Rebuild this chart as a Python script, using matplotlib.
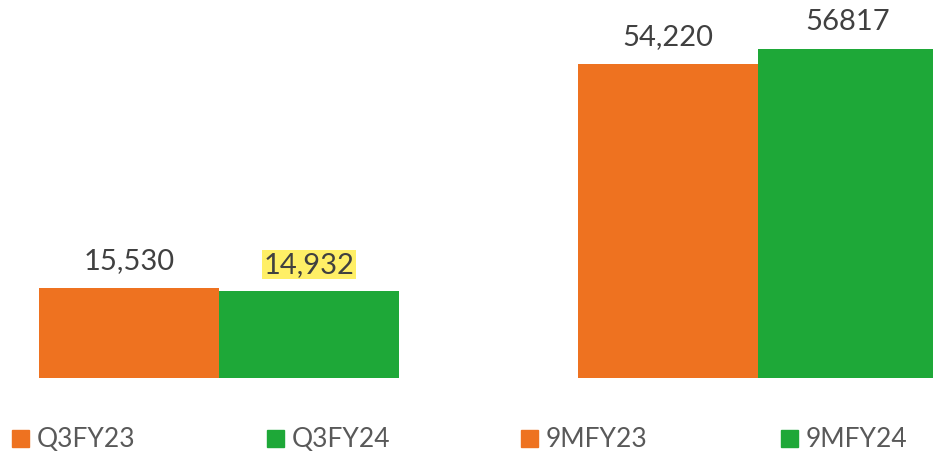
import matplotlib
matplotlib.use("Agg")
import matplotlib.pyplot as plt
from matplotlib.patches import Rectangle

plt.rcParams['font.family'] = ['Lato', 'DejaVu Sans']

groups = ["Q3", "9M"]
fy23_labels = ["Q3FY23", "9MFY23"]
fy24_labels = ["Q3FY24", "9MFY24"]
fy23_values = [15530, 54220]
fy24_values = [14932, 56817]
fy23_text = ["15,530", "54,220"]
fy24_text = ["14,932", "56817"]

orange = "#EE7220"
green = "#1EA838"
txt = "#404040"

W, H = 933, 453
fig = plt.figure(figsize=(W / 100, H / 100), dpi=100)
ax = fig.add_axes([0, 75 / H, 1, 378 / H])

w = 0.334
x = [0, 1]
b1 = ax.bar([i - w / 2 for i in x], fy23_values, w, color=orange)
b2 = ax.bar([i + w / 2 for i in x], fy24_values, w, color=green)

for bar, t in zip(b1, fy23_text):
    ax.annotate(t, (bar.get_x() + bar.get_width() / 2, bar.get_height()),
                xytext=(0, 13.5), textcoords="offset points",
                ha="center", va="baseline", fontsize=21, color=txt)
for i, (bar, t) in enumerate(zip(b2, fy24_text)):
    kw = {}
    if i == 0:
        kw["bbox"] = dict(boxstyle="square,pad=0.05", fc="#FFEF66", ec="none")
    ax.annotate(t, (bar.get_x() + bar.get_width() / 2, bar.get_height()),
                xytext=(0, 13.5), textcoords="offset points",
                ha="center", va="baseline", fontsize=21, color=txt, **kw)

ax.set_xlim(-0.4063, 1.3247)
ax.set_ylim(0, 65200)
ax.axis("off")

# legend along the bottom, drawn by hand to match the spacing
leg_labels = [fy23_labels[0], fy24_labels[0], fy23_labels[1], fy24_labels[1]]
leg_colors = [orange, green, orange, green]
leg_x = [12, 267, 521, 781]
for lx, lab, c in zip(leg_x, leg_labels, leg_colors):
    fig.add_artist(Rectangle((lx / W, (H - 447) / H), 17 / W, 17 / H,
                             transform=fig.transFigure, color=c))
    fig.text((lx + 25) / W, (H - 447) / H, lab, fontsize=19,
             color="#595959", ha="left", va="baseline")

fig.savefig("out.png", dpi=100)
